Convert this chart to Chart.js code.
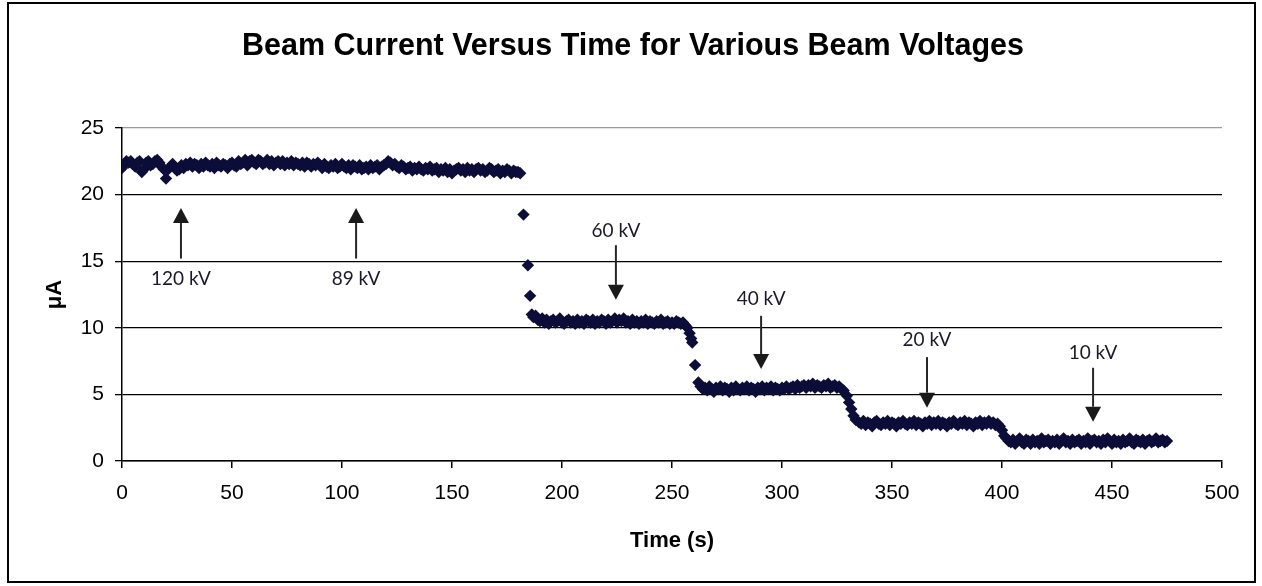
<!DOCTYPE html>
<html>
<head>
<meta charset="utf-8">
<script src="https://cdn.jsdelivr.net/npm/chart.js@4.4.1/dist/chart.umd.min.js"></script>
<style>
  html, body { margin: 0; padding: 0; background: #ffffff; }
  #wrap { width: 1262px; height: 586px; position: relative; }
  canvas { display: block; }
</style>
</head>
<body>
<div id="wrap"><canvas id="c" width="1262" height="586"></canvas></div>
<script>
// ---- Data ----
const chartTitle = 'Beam Current Versus Time for Various Beam Voltages';
const xAxisTitle = 'Time (s)';
const yAxisTitle = 'μA';

// Samples are taken once per second; each plateau starts at the given time (s)
const sampleIntervalS = 1;
const plateauStartS = [0, 187, 263, 335, 403];

// 120 kV / 89 kV plateau, t = 0 .. 181 s
const current120kV = [
  22.0,22.3,22.5,22.4,22.5,22.3,22.1,22.4,22.5,21.7,
  21.9,22.4,22.5,22.2,22.3,22.5,22.6,22.4,22.1,21.9,
  21.2,21.9,22.1,22.3,22.0,21.8,21.9,22.2,22.0,22.3,
  22.2,22.4,22.1,22.3,22.2,22.0,22.3,22.1,22.4,22.2,
  22.1,22.3,22.0,22.4,22.2,22.1,22.3,22.2,22.0,22.3,
  22.4,22.2,22.1,22.5,22.3,22.4,22.6,22.2,22.5,22.6,
  22.4,22.3,22.6,22.5,22.3,22.4,22.6,22.3,22.5,22.2,
  22.4,22.5,22.3,22.5,22.2,22.4,22.3,22.5,22.2,22.4,
  22.3,22.2,22.4,22.1,22.4,22.3,22.1,22.3,22.2,22.4,
  22.2,22.0,22.3,22.1,22.0,22.2,22.1,22.3,22.0,22.1,
  22.3,22.1,22.0,22.2,21.9,22.2,22.1,22.0,22.2,21.9,
  22.0,22.1,21.9,22.2,22.0,22.1,22.2,21.9,22.1,22.2,
  22.3,22.5,22.4,22.2,22.3,22.1,22.0,22.2,22.1,21.9,
  22.0,22.1,21.8,22.0,21.9,22.1,21.9,21.8,22.0,21.9,
  22.1,21.8,21.9,22.0,21.7,21.9,21.8,22.0,21.7,21.9,
  21.6,21.8,21.9,22.0,21.8,21.9,21.7,22.0,21.8,21.9,
  21.7,21.9,22.0,21.8,21.9,21.7,21.8,22.0,21.9,21.7,
  21.8,21.9,21.6,21.8,21.7,21.9,21.8,21.6,21.8,21.7,
  21.7,21.6
];

// 60 kV plateau, t = 187 .. 257 s
const current60kV = [
  10.8,10.9,10.6,10.5,10.7,10.4,10.6,10.3,10.5,10.6,
  10.4,10.5,10.7,10.4,10.3,10.5,10.6,10.4,10.5,10.3,
  10.6,10.4,10.5,10.3,10.6,10.5,10.4,10.6,10.3,10.5,
  10.4,10.6,10.5,10.3,10.6,10.4,10.5,10.7,10.4,10.6,
  10.5,10.7,10.4,10.5,10.3,10.6,10.4,10.5,10.3,10.5,
  10.4,10.6,10.3,10.5,10.4,10.3,10.5,10.4,10.6,10.3,
  10.4,10.5,10.3,10.4,10.3,10.5,10.4,10.3,10.4,10.2,
  10.0
];

// 40 kV plateau, t = 263 .. 328 s
const current40kV = [
  5.6,5.4,5.5,5.3,5.6,5.4,5.2,5.5,5.4,5.6,
  5.3,5.5,5.4,5.2,5.5,5.3,5.6,5.4,5.3,5.5,
  5.4,5.6,5.3,5.5,5.4,5.2,5.5,5.4,5.6,5.3,
  5.5,5.4,5.6,5.3,5.5,5.4,5.3,5.5,5.4,5.6,
  5.4,5.5,5.6,5.4,5.7,5.5,5.6,5.7,5.5,5.7,
  5.6,5.8,5.5,5.7,5.6,5.5,5.7,5.6,5.8,5.5,
  5.6,5.7,5.5,5.6,5.4,5.3
];

// 20 kV plateau, t = 335 .. 399 s
const current20kV = [
  2.9,2.8,3.0,2.7,2.9,2.8,2.6,2.9,3.0,2.8,
  2.7,2.9,2.8,3.0,2.7,2.9,2.8,2.6,2.9,2.8,
  3.0,2.8,2.7,2.9,2.8,3.0,2.7,2.9,2.8,2.6,
  2.9,2.8,3.0,2.7,2.9,2.8,3.0,2.7,2.9,2.8,
  2.6,2.9,2.8,3.0,2.8,2.7,2.9,2.8,3.0,2.7,
  2.9,2.8,2.6,2.9,2.8,3.0,2.7,2.9,2.8,3.0,
  2.8,2.9,2.7,2.8,2.6
];

// 10 kV plateau, t = 403 .. 475 s
const current10kV = [
  1.5,1.4,1.6,1.3,1.5,1.7,1.4,1.3,1.6,1.5,
  1.3,1.6,1.4,1.5,1.3,1.7,1.4,1.5,1.6,1.3,
  1.5,1.4,1.6,1.3,1.5,1.7,1.4,1.5,1.3,1.6,
  1.4,1.5,1.6,1.3,1.5,1.4,1.7,1.3,1.5,1.6,
  1.4,1.5,1.3,1.6,1.4,1.7,1.5,1.3,1.6,1.4,
  1.5,1.3,1.6,1.4,1.5,1.7,1.4,1.3,1.6,1.5,
  1.4,1.6,1.3,1.5,1.6,1.4,1.5,1.7,1.4,1.5,
  1.6,1.4,1.5
];

// points recorded while the voltage was being changed
const transitionTimeS   = [182.5, 184.5, 185.5, 186.3, 258, 258.7, 259.2, 260.5, 262, 329.5, 330.5, 331.5, 332.5, 333.5, 400, 401, 402];
const transitionCurrent = [18.5, 14.7, 12.4, 11.0, 9.6, 9.2, 8.9, 7.2, 5.9, 4.9, 4.4, 3.9, 3.4, 3.1, 2.3, 1.9, 1.7];

const xTickStep = 50;
const yTickStep = 5;

// annotations: label, x (s), arrow tail (μA), arrow tip (μA), label centre (μA)
const arrowLabels = ['120 kV', '89 kV', '60 kV', '40 kV', '20 kV', '10 kV'];
const arrowX      = [26.8, 106.4, 224.5, 290.5, 365.9, 441.4];
const arrowTail   = [15.2, 15.2, 16.2, 10.9, 7.8, 7.0];
const arrowTip    = [19.0, 19.0, 12.1, 6.9, 4.0, 2.95];
const labelY      = [13.7, 13.65, 17.3, 12.15, 9.1, 8.1];

// ---- build point list ----
const plateaus = [current120kV, current60kV, current40kV, current20kV, current10kV];
const points = [];
plateaus.forEach((vals, p) => {
  vals.forEach((v, i) => points.push({ x: plateauStartS[p] + i * sampleIntervalS, y: v }));
});
transitionTimeS.forEach((t, i) => points.push({ x: t, y: transitionCurrent[i] }));
points.sort((a, b) => a.x - b.x);

// ---- Plugin: frame, title, arrows ----
const decor = {
  id: 'decor',
  beforeDraw(chart) {
    const ctx = chart.ctx;
    ctx.save();
    ctx.fillStyle = '#ffffff';
    ctx.fillRect(0, 0, chart.width, chart.height);
    ctx.strokeStyle = '#000000';
    ctx.lineWidth = 2;
    ctx.strokeRect(8, 3, 1247, 579);
    ctx.fillStyle = '#000000';
    ctx.font = 'bold 30.5px "Liberation Sans", Arial, sans-serif';
    ctx.textAlign = 'center';
    ctx.textBaseline = 'middle';
    ctx.fillText(chartTitle, 633, 47);
    ctx.restore();
  },
  afterDatasetsDraw(chart) {
    const ctx = chart.ctx;
    const xs = chart.scales.x, ys = chart.scales.y;
    ctx.save();
    for (let i = 0; i < arrowLabels.length; i++) {
      const x = xs.getPixelForValue(arrowX[i]);
      const yTail = ys.getPixelForValue(arrowTail[i]);
      const yTip = ys.getPixelForValue(arrowTip[i]);
      const dir = yTip > yTail ? 1 : -1;
      const headLen = 15, headHalf = 8;
      ctx.strokeStyle = '#262626';
      ctx.fillStyle = '#1a1a1a';
      ctx.lineWidth = 2;
      ctx.beginPath();
      ctx.moveTo(x, yTail);
      ctx.lineTo(x, yTip - dir * headLen);
      ctx.stroke();
      ctx.beginPath();
      ctx.moveTo(x, yTip);
      ctx.lineTo(x - headHalf, yTip - dir * headLen);
      ctx.lineTo(x + headHalf, yTip - dir * headLen);
      ctx.closePath();
      ctx.fill();
      ctx.fillStyle = '#1a1a2a';
      ctx.font = '19px Lato, "Open Sans", sans-serif';
      ctx.textAlign = 'center';
      ctx.textBaseline = 'middle';
      ctx.fillText(arrowLabels[i], x, ys.getPixelForValue(labelY[i]));
    }
    ctx.restore();
  }
};

const tickFont = { family: '"Liberation Sans", Arial, sans-serif', size: 21 };
const titleFont = { family: '"Liberation Sans", Arial, sans-serif', size: 22, weight: 'bold' };

new Chart(document.getElementById('c'), {
  type: 'scatter',
  data: {
    datasets: [{
      label: 'Beam current',
      data: points,
      pointStyle: 'rectRot',
      pointRadius: 6.2,
      pointHoverRadius: 6.2,
      backgroundColor: '#0c0d38',
      borderColor: '#0c0d38',
      borderWidth: 0,
      showLine: false
    }]
  },
  plugins: [decor],
  options: {
    responsive: false,
    animation: false,
    devicePixelRatio: 1,
    layout: { padding: { left: 10, top: 128, right: 40, bottom: 10 } },
    plugins: {
      legend: { display: false },
      title: { display: false },
      tooltip: { enabled: false }
    },
    scales: {
      x: {
        type: 'linear',
        min: 0, max: 500,
        afterFit(scale) { scale.height = 115; },
        ticks: { stepSize: xTickStep, font: tickFont, color: '#000', padding: 13, maxRotation: 0 },
        grid: { drawOnChartArea: false, drawTicks: true, tickLength: 7, color: '#000', lineWidth: 1.5 },
        border: { display: true, color: '#000', width: 1.5 },
        title: { display: true, text: xAxisTitle, font: titleFont, color: '#000', padding: { top: 0, bottom: 22 } }
      },
      y: {
        type: 'linear',
        min: 0, max: 25,
        afterFit(scale) { scale.width = 112; },
        ticks: { stepSize: yTickStep, font: tickFont, color: '#000', padding: 11 },
        grid: {
          drawTicks: true, tickLength: 7,
          color: (c) => (c.tick && c.tick.value === 25 ? '#9a9a9a' : '#000'),
          tickColor: '#000',
          lineWidth: 1.3
        },
        border: { display: true, color: '#000', width: 1.5 },
        title: { display: true, text: yAxisTitle, font: titleFont, color: '#000', padding: { top: 32, bottom: 0 } }
      }
    }
  }
});
</script>
</body>
</html>
